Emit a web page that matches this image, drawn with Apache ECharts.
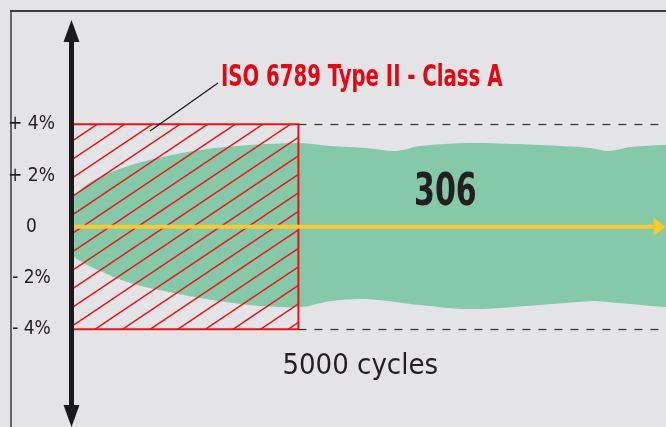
<!DOCTYPE html>
<html>
<head>
<meta charset="utf-8">
<script src="https://cdn.jsdelivr.net/npm/echarts@6/dist/echarts.min.js"></script>
<style>
  html, body { margin: 0; padding: 0; background: #e4e4e6; }
  #chart { width: 666px; height: 427px; }
</style>
</head>
<body>
<div id="chart"></div>
<script>
// y axis ticks (deviation in %)
const yTicks = [-4, -2, 0, 2, 4];
const yTickLabels = ["- 4%", "- 2%", "0", "+ 2%", "+ 4%"];
// tolerance box of the standard
const classLimit = 4;
const classCycles = 5000;
const classLabel = "ISO 6789 Type II - Class A";
const cycleLabel = "5000 cycles";
const valueLabel = "306";
// spread band of the measured deviation (cycles -> %), runs on past the right edge
const bandCycles = [0, 190, 630, 1180, 1730, 2830, 3930, 5030, 5690, 6470, 7170, 7680, 8780, 10320, 11420, 11860, 12300, 13100, 13500];
const bandTop = [1.0, 1.44, 1.94, 2.33, 2.61, 3.0, 3.19, 3.27, 3.15, 3.08, 2.96, 3.15, 3.27, 3.19, 3.08, 2.96, 3.11, 3.19, 3.2];
const bandBottom = [-1.02, -1.33, -1.72, -2.12, -2.39, -2.78, -3.05, -3.13, -2.9, -2.82, -2.94, -3.05, -3.21, -3.05, -2.9, -2.94, -3.01, -3.13, -3.15];
// mean line
const trendCycles = [0, 12960];
const trendValues = [0, 0];

const xMax = 13100;
const yMin = -7.38;
const yMax = 7.64;

const narrow = "'Liberation Sans Narrow', 'DejaVu Sans Condensed', 'Arial Narrow', sans-serif";
const red = "#e8141c";

// hatch pattern for the class box
function hatch() {
  let w = 138, h = 111; // 5 x 27.6, 6 x 18.5
  let sx = 27.6, sy = 18.5, c = 0.24;
  let cv = document.createElement("canvas");
  cv.width = w;
  cv.height = h;
  let ctx = cv.getContext("2d");
  ctx.strokeStyle = red;
  ctx.lineWidth = 1.5;
  for (let k = -12; k < 20; k++) {
    let m = k + c;
    // x/sx + y/sy = m
    let y0 = -sy, y1 = h + sy;
    ctx.beginPath();
    ctx.moveTo(sx * (m - y0 / sy), y0);
    ctx.lineTo(sx * (m - y1 / sy), y1);
    ctx.stroke();
  }
  return cv;
}

let chartDom = document.getElementById("chart");
let myChart = echarts.init(chartDom);
let option;

let bandData = bandCycles.map((x, i) => [x, bandBottom[i], bandTop[i]]);
let trendData = trendCycles.map((x, i) => [x, trendValues[i]]);

// one polygon for the whole band: top edge, then bottom edge backwards
function renderBand(params, api) {
  if (params.dataIndex !== 0) return;
  let top = [];
  let bottom = [];
  for (let i = 0; i < bandData.length; i++) {
    top.push(api.coord([bandData[i][0], bandData[i][2]]));
    bottom.push(api.coord([bandData[i][0], bandData[i][1]]));
  }
  return {
    type: "polygon",
    shape: { points: top.concat(bottom.reverse()), smooth: 0.35 },
    style: { fill: "#85c9a9" },
  };
}

option = {
  backgroundColor: "#e4e4e6",
  animation: false,
  grid: { left: 71.5, right: 0, top: 31, bottom: 11 },
  xAxis: {
    type: "value",
    min: 0,
    max: xMax,
    offset: -87,
    axisLine: { show: false },
    axisTick: { show: false },
    splitLine: { show: false },
    axisLabel: {
      customValues: [classCycles],
      formatter: () => cycleLabel,
      align: "left",
      padding: [0, 0, 0, -16],
      margin: 23,
      color: "#231f20",
      fontSize: 29,
      fontFamily: narrow,
    },
  },
  yAxis: {
    type: "value",
    min: yMin,
    max: yMax,
    z: 6,
    axisLine: {
      show: true,
      symbol: ["triangle", "triangle"],
      symbolSize: [16, 22],
      lineStyle: { color: "#1a1a1a", width: 5 },
    },
    axisTick: { show: false },
    splitLine: { show: false },
    axisLabel: {
      customValues: yTicks,
      formatter: (v) => yTickLabels[yTicks.indexOf(v)],
      align: "center",
      margin: 40,
      color: "#231f20",
      fontSize: 19,
      fontFamily: narrow,
    },
  },
  graphic: [
    { type: "line", shape: { x1: 10, y1: 11, x2: 666, y2: 11 }, style: { stroke: "#3c3c3c", lineWidth: 2 } },
    { type: "line", shape: { x1: 11, y1: 11, x2: 11, y2: 427 }, style: { stroke: "#3c3c3c", lineWidth: 1.5 } },
    { type: "line", z: 10, shape: { x1: 150, y1: 131, x2: 218, y2: 83 }, style: { stroke: "#1a1a1a", lineWidth: 1.3 } },
    {
      type: "text",
      x: 221,
      y: 63,
      scaleX: 0.73,
      style: { text: classLabel, fill: "#e30613", font: "bold 30px " + narrow, textVerticalAlign: "top" },
    },
    {
      type: "text",
      x: 414,
      y: 172,
      z: 10,
      scaleX: 0.76,
      style: { text: valueLabel, fill: "#231f20", font: "bold 44px " + narrow, textVerticalAlign: "top" },
    },
  ],
  series: [
    {
      type: "custom",
      data: bandData,
      encode: { x: 0, y: [1, 2] },
      renderItem: renderBand,
      clip: true,
      silent: true,
      z: 1,
    },
    {
      type: "line",
      data: [],
      z: 3,
      silent: true,
      markArea: {
        silent: true,
        z: 3,
        itemStyle: {
          color: { image: hatch(), repeat: "repeat" },
          borderColor: red,
          borderWidth: 2,
        },
        data: [[{ coord: [0, classLimit] }, { coord: [classCycles, -classLimit] }]],
      },
      markLine: {
        silent: true,
        symbol: "none",
        label: { show: false },
        lineStyle: { color: "#333", width: 1.2, type: [8, 8] },
        data: [
          [{ coord: [classCycles, classLimit] }, { coord: [xMax, classLimit] }],
          [{ coord: [classCycles, -classLimit] }, { coord: [xMax, -classLimit] }],
        ],
      },
    },
    {
      type: "line",
      data: trendData,
      z: 4,
      silent: true,
      symbol: (v, p) => (p.dataIndex === trendData.length - 1 ? "triangle" : "none"),
      symbolSize: [18, 12],
      symbolRotate: -90,
      itemStyle: { color: "#f9c932" },
      lineStyle: { color: "#f9c932", width: 4 },
    },
  ],
};

option && myChart.setOption(option);
</script>
</body>
</html>
